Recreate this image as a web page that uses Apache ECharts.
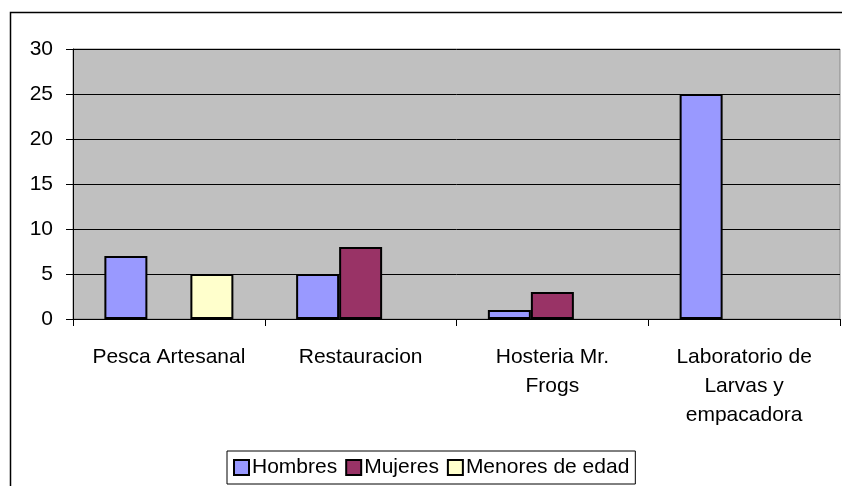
<!DOCTYPE html>
<html>
<head>
<meta charset="utf-8">
<script src="https://cdn.jsdelivr.net/npm/echarts@6/dist/echarts.min.js"></script>
<style>
  html, body { margin: 0; padding: 0; background: #fff; }
  #chart { width: 842px; height: 486px; }
</style>
</head>
<body>
<div id="chart"></div>
<script>
var categories = ["Pesca Artesanal", "Restauracion", "Hosteria Mr.\nFrogs", "Laboratorio de\nLarvas y\nempacadora"];
var seriesNames = ["Hombres", "Mujeres", "Menores de edad"];
var hombres = [7, 5, 1, 25];
var mujeres = [0, 8, 3, 0];
var menores = [5, 0, 0, 0];
var colors = ["#9999FF", "#993366", "#FFFFCC"];

var font = "Liberation Sans, Arial, sans-serif";
var chart = echarts.init(document.getElementById("chart"));

function bar(name, data, color) {
  return {
    name: name,
    type: "bar",
    // empty cells are not drawn in the original
    data: data.map(function (v) { return v === 0 ? null : v; }),
    barWidth: 43,
    barGap: "0%",
    itemStyle: { color: color, borderColor: "#000", borderWidth: 2 }
  };
}

chart.setOption({
  animation: false,
  textStyle: { fontFamily: font },
  graphic: [{
    type: "rect",
    shape: { x: 10.5, y: 12.5, width: 900, height: 600 },
    style: { fill: "none", stroke: "#000", lineWidth: 1.5 },
    silent: true,
    z: -10
  }],
  grid: {
    left: 73, top: 49, right: 2, bottom: 167,
    show: true,
    backgroundColor: "#C0C0C0",
    borderColor: "#888",
    borderWidth: 1
  },
  legend: {
    data: seriesNames,
    bottom: 2,
    left: 227,
    itemWidth: 15,
    itemHeight: 15,
    itemGap: 8,
    padding: [6, 6, 6, 6],
    borderColor: "#000",
    borderWidth: 1,
    backgroundColor: "#fff",
    icon: "rect",
    itemStyle: { borderColor: "#000", borderWidth: 2 },
    textStyle: { fontSize: 21, color: "#000", fontFamily: font, padding: [0, 0, 0, -2] }
  },
  xAxis: {
    type: "category",
    data: categories,
    axisLine: { lineStyle: { color: "#000", width: 1 } },
    axisTick: { show: true, length: 7, interval: 0, lineStyle: { color: "#000" } },
    axisLabel: { interval: 0, fontSize: 21, color: "#000", margin: 24, lineHeight: 29, align: "center" }
  },
  yAxis: {
    type: "value",
    min: 0,
    max: 30,
    interval: 5,
    axisLine: { show: true, lineStyle: { color: "#000", width: 1 } },
    axisTick: { show: true, length: 7, lineStyle: { color: "#000" } },
    axisLabel: { fontSize: 21, color: "#000", margin: 20 },
    splitLine: { lineStyle: { color: "#000", width: 1 } }
  },
  series: [
    bar(seriesNames[0], hombres, colors[0]),
    bar(seriesNames[1], mujeres, colors[1]),
    bar(seriesNames[2], menores, colors[2])
  ]
});
</script>
</body>
</html>
